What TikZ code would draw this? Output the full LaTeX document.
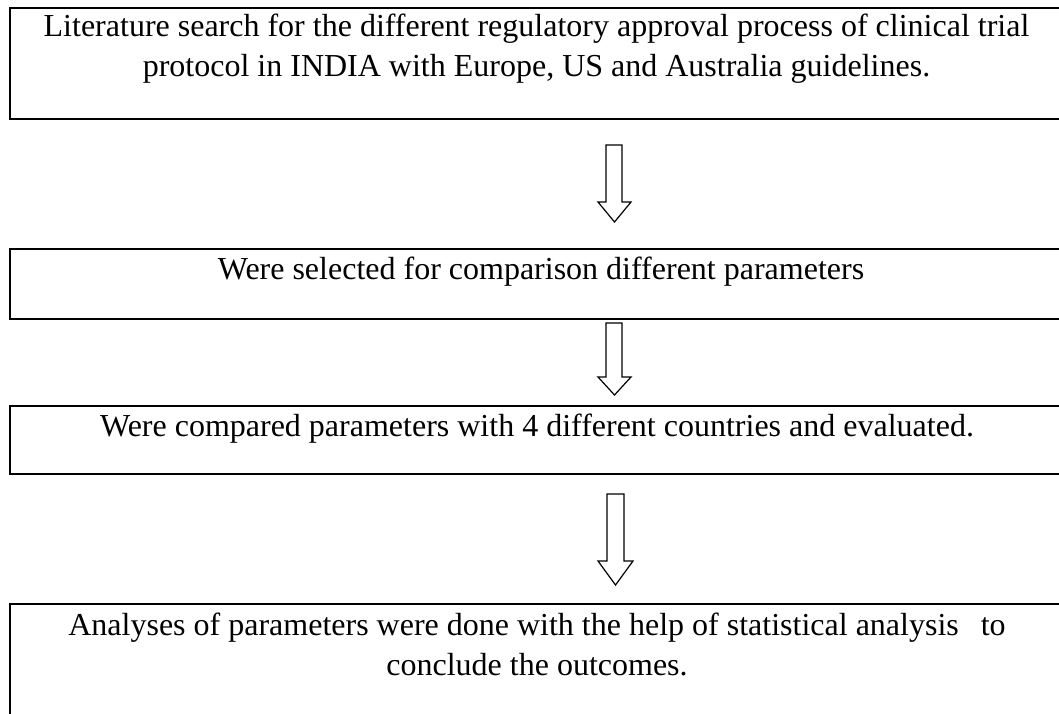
\documentclass[tikz,border=0pt]{standalone}
\usepackage{fontspec}
\setmainfont{Liberation Serif}
\begin{document}
\begin{tikzpicture}[x=1pt,y=-1pt,
  stepbox/.style={draw, line width=2pt, inner sep=0pt, minimum width=1054pt},
  txt/.style={inner sep=0pt, anchor=base, font=\fontsize{32}{40}\selectfont},
  blockarrow/.style={draw, line width=1.2pt, fill=white, line join=miter}]
\useasboundingbox (0,0) rectangle (1059,714);
\clip (0,0) rectangle (1059,714);
% boxes
\node[stepbox, minimum height=111pt] (b1) at (537,63.5) {};
\node[stepbox, minimum height=70pt] (b2) at (537,284) {};
\node[stepbox, minimum height=68pt] (b3) at (537,440) {};
\node[stepbox, minimum height=160pt] (b4) at (537,684) {};
% texts
\node[txt] (t1a) at (536.5,37) {Literature search for the different regulatory approval process of clinical trial};
\node[txt] (t1b) at (536.5,77) {protocol in INDIA with Europe, US and Australia guidelines.};
\node[txt] (t2) at (541,279) {Were selected for comparison different parameters};
\node[txt] (t3) at (537,436) {Were compared parameters with 4 different countries and evaluated.};
\node[txt] (t4a) at (537,635) {Analyses of parameters were done with the help of statistical analysis\hspace{22pt}to};
\node[txt] (t4b) at (537,675) {conclude the outcomes.};
% block arrows
\draw[blockarrow] (606,145) -- (622,145) -- (622,202) -- (631,202) -- (614.5,222) -- (598,202) -- (606,202) -- cycle;
\draw[blockarrow] (606,323) -- (622,323) -- (622,377) -- (631,377) -- (614.5,395) -- (598,377) -- (606,377) -- cycle;
\draw[blockarrow] (607,494) -- (624,494) -- (624,561) -- (633,561) -- (615.5,585) -- (598,561) -- (607,561) -- cycle;
\end{tikzpicture}
\end{document}
